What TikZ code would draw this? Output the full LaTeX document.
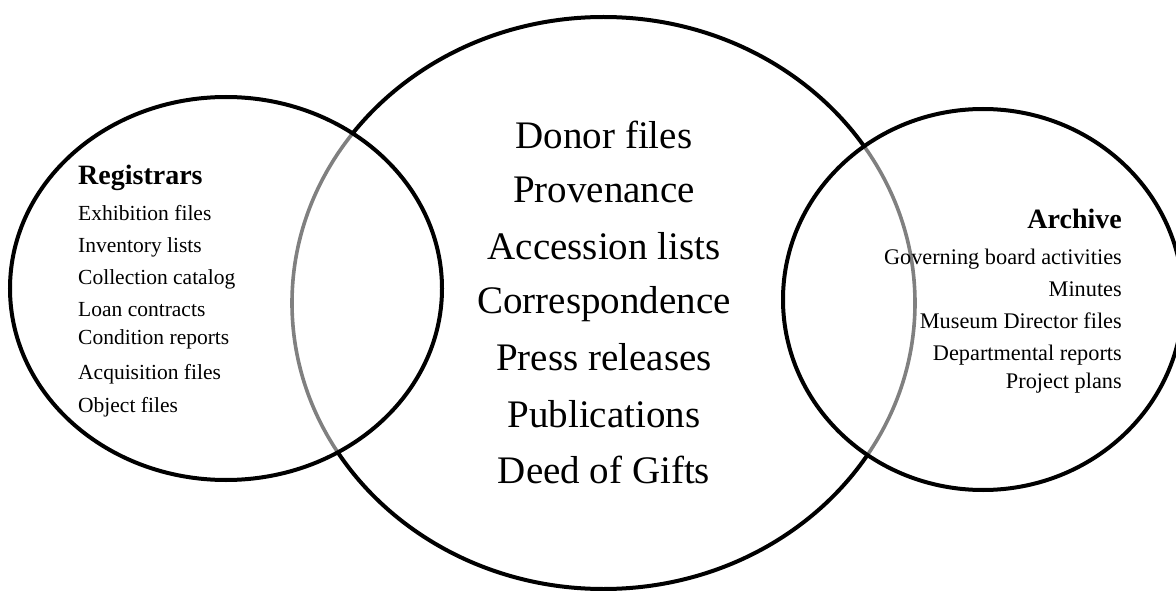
\documentclass[tikz,border=0pt]{standalone}
\usepackage{fontspec}
\setmainfont{Liberation Serif}
\begin{document}
\begin{tikzpicture}[x=1pt,y=-1pt,
  ring/.style={draw=black,line width=4pt},
  inner/.style={draw=black!50,line width=3.6pt},
  ltxt/.style={anchor=base west,inner sep=0pt,font=\fontsize{21.5}{24}\selectfont},
  rtxt/.style={anchor=base east,inner sep=0pt,font=\fontsize{22.3}{24}\selectfont},
  mtxt/.style={anchor=base,inner sep=0pt,font=\fontsize{39}{42}\selectfont},
  head/.style={inner sep=0pt,font=\fontsize{28}{30}\selectfont\bfseries}]
\useasboundingbox (0,0) rectangle (1176,591);
% middle ellipse: black outside the side ellipses
\begin{scope}[even odd rule]
  \clip (-20,-20) rectangle (1200,620)
    (226,288.5) ellipse [x radius=216,y radius=191.5]
    (983,299.5) ellipse [x radius=200,y radius=190.5];
  \draw[ring] (603.5,303) ellipse [x radius=311.5,y radius=286];
\end{scope}
% parts of middle ellipse inside left/right ellipses are grey
\begin{scope}
  \clip (226,288.5) ellipse [x radius=216,y radius=191.5];
  \draw[inner] (603.5,303) ellipse [x radius=311.5,y radius=286];
\end{scope}
\begin{scope}
  \clip (983,299.5) ellipse [x radius=200,y radius=190.5];
  \draw[inner] (603.5,303) ellipse [x radius=311.5,y radius=286];
\end{scope}
% left and right ellipses
\draw[ring] (226,288.5) ellipse [x radius=216,y radius=191.5];
\draw[ring] (983,299.5) ellipse [x radius=200,y radius=190.5];
% left text
\node[head,anchor=base west] (reg) at (78,185) {Registrars};
\node[ltxt] (l1) at (78,220) {Exhibition files};
\node[ltxt] (l2) at (78,252) {Inventory lists};
\node[ltxt] (l3) at (78,284) {Collection catalog};
\node[ltxt] (l4) at (78,316) {Loan contracts};
\node[ltxt] (l5) at (78,344) {Condition reports};
\node[ltxt] (l6) at (78,379) {Acquisition files};
\node[ltxt] (l7) at (78,412) {Object files};
% middle text
\node[mtxt] (m1) at (604,149) {Donor files};
\node[mtxt] (m2) at (604,202) {Provenance};
\node[mtxt] (m3) at (604,259) {Accession lists};
\node[mtxt] (m4) at (604,313) {Correspondence};
\node[mtxt] (m5) at (604,370) {Press releases};
\node[mtxt] (m6) at (604,427) {Publications};
\node[mtxt] (m7) at (604,483) {Deed of Gifts};
% right text
\node[head,anchor=base east] (arc) at (1122,228) {Archive};
\node[rtxt] (r1) at (1122,264) {Governing board activities};
\node[rtxt] (r2) at (1122,296) {Minutes};
\node[rtxt] (r3) at (1122,328) {Museum Director files};
\node[rtxt] (r4) at (1122,360) {Departmental reports};
\node[rtxt] (r5) at (1122,388) {Project plans};
\end{tikzpicture}
\end{document}
